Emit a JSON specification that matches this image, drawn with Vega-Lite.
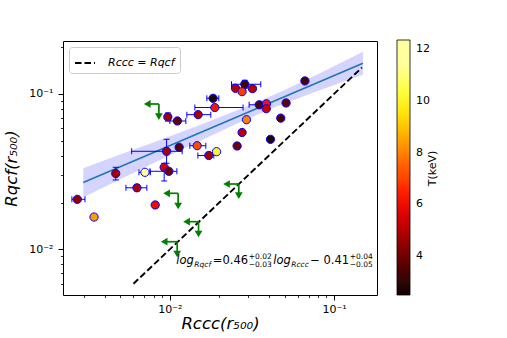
{
  "$schema": "https://vega.github.io/schema/vega-lite/v6.json",
  "width": 314,
  "height": 254,
  "autosize": "none",
  "padding": {"left": 63, "top": 41, "right": 130, "bottom": 43},
  "background": "white",
  "config": {
    "font": "DejaVu Sans",
    "view": {"stroke": "black", "strokeWidth": 1},
    "axis": {"grid": false, "domain": false, "tickColor": "black", "labelColor": "black", "titleColor": "black", "labelFont": "DejaVu Sans", "titleFont": "DejaVu Sans"}
  },
  "datasets": {
    "pts": [
      {"x": 0.01834, "y": 0.0938, "T": 2.7, "xlo": 0.0168, "xhi": 0.01987, "ylo": null, "yhi": null},
      {"x": 0.01879, "y": 0.0818, "T": 6.2, "xlo": 0.0142, "xhi": 0.02793, "ylo": null, "yhi": null},
      {"x": 0.00972, "y": 0.0711, "T": 4.7, "xlo": null, "xhi": null, "ylo": 0.067, "yhi": 0.0755},
      {"x": 0.01111, "y": 0.067, "T": 3.8, "xlo": 0.01, "xhi": 0.01251, "ylo": null, "yhi": null},
      {"x": 0.01487, "y": 0.0736, "T": 4.8, "xlo": 0.01269, "xhi": 0.01776, "ylo": null, "yhi": null},
      {"x": 0.00955, "y": 0.04276, "T": 4.8, "xlo": 0.00585, "xhi": 0.01188, "ylo": 0.0358, "yhi": 0.0511},
      {"x": 0.01139, "y": 0.04538, "T": 3.6, "xlo": null, "xhi": null, "ylo": null, "yhi": null},
      {"x": 0.01466, "y": 0.04645, "T": 7.1, "xlo": 0.01323, "xhi": 0.01656, "ylo": null, "yhi": null},
      {"x": 0.01727, "y": 0.04018, "T": 4.8, "xlo": 0.01481, "xhi": 0.01853, "ylo": null, "yhi": null},
      {"x": 0.01924, "y": 0.04251, "T": 10.0, "xlo": null, "xhi": null, "ylo": null, "yhi": null},
      {"x": 0.00923, "y": 0.03373, "T": 5.6, "xlo": null, "xhi": null, "ylo": 0.02753, "yhi": 0.0358},
      {"x": 0.00986, "y": 0.03179, "T": 4.0, "xlo": 0.00756, "xhi": 0.01103, "ylo": null, "yhi": null},
      {"x": 0.00705, "y": 0.03131, "T": 12.36, "xlo": 0.00648, "xhi": 0.0076, "ylo": null, "yhi": null},
      {"x": 0.00468, "y": 0.03076, "T": 4.8, "xlo": null, "xhi": null, "ylo": 0.02794, "yhi": 0.03373},
      {"x": 0.0063, "y": 0.02489, "T": 4.9, "xlo": 0.0054, "xhi": 0.00724, "ylo": 0.0238, "yhi": 0.02602},
      {"x": 0.00814, "y": 0.01929, "T": 5.9, "xlo": null, "xhi": null, "ylo": null, "yhi": null},
      {"x": 0.00273, "y": 0.02099, "T": 4.5, "xlo": 0.00253, "xhi": 0.00304, "ylo": null, "yhi": null},
      {"x": 0.00345, "y": 0.01614, "T": 8.4, "xlo": null, "xhi": null, "ylo": null, "yhi": null},
      {"x": 0.02511, "y": 0.1088, "T": 5.0, "xlo": null, "xhi": null, "ylo": null, "yhi": null},
      {"x": 0.02861, "y": 0.1155, "T": 3.3, "xlo": 0.02374, "xhi": 0.0358, "ylo": 0.1088, "yhi": 0.1225},
      {"x": 0.02754, "y": 0.1035, "T": 6.8, "xlo": null, "xhi": null, "ylo": null, "yhi": null},
      {"x": 0.03187, "y": 0.1082, "T": 5.0, "xlo": null, "xhi": null, "ylo": null, "yhi": null},
      {"x": 0.03505, "y": 0.0852, "T": 3.5, "xlo": 0.0304, "xhi": 0.0363, "ylo": null, "yhi": null},
      {"x": 0.03878, "y": 0.0865, "T": 6.2, "xlo": null, "xhi": null, "ylo": null, "yhi": null},
      {"x": 0.03866, "y": 0.0804, "T": 5.3, "xlo": null, "xhi": null, "ylo": null, "yhi": null},
      {"x": 0.05104, "y": 0.0875, "T": 3.8, "xlo": null, "xhi": null, "ylo": null, "yhi": null},
      {"x": 0.06651, "y": 0.1213, "T": 3.5, "xlo": null, "xhi": null, "ylo": null, "yhi": null},
      {"x": 0.0293, "y": 0.0683, "T": 7.9, "xlo": null, "xhi": null, "ylo": null, "yhi": null},
      {"x": 0.04739, "y": 0.0699, "T": 3.5, "xlo": null, "xhi": null, "ylo": null, "yhi": null},
      {"x": 0.02754, "y": 0.05651, "T": 5.0, "xlo": null, "xhi": null, "ylo": null, "yhi": null},
      {"x": 0.02568, "y": 0.04625, "T": 4.0, "xlo": null, "xhi": null, "ylo": null, "yhi": null},
      {"x": 0.04101, "y": 0.05107, "T": 2.7, "xlo": null, "xhi": null, "ylo": null, "yhi": null}
    ],
    "band": [
      {"x": 0.002967, "lo": 0.02165, "hi": 0.03328},
      {"x": 0.004961, "lo": 0.02812, "hi": 0.04074},
      {"x": 0.008692, "lo": 0.03758, "hi": 0.05055},
      {"x": 0.01523, "lo": 0.04985, "hi": 0.06321},
      {"x": 0.02667, "lo": 0.06566, "hi": 0.07962},
      {"x": 0.04672, "lo": 0.08452, "hi": 0.1025},
      {"x": 0.08185, "lo": 0.1057, "hi": 0.136},
      {"x": 0.1501, "lo": 0.1329, "hi": 0.1869}
    ],
    "fit": [
      {"x": 0.002967, "y": 0.0269},
      {"x": 0.1501, "y": 0.1576}
    ],
    "ref": [
      {"x": 0.006, "y": 0.006, "k": "Rccc = Rqcf"},
      {"x": 0.148, "y": 0.148, "k": "Rccc = Rqcf"}
    ],
    "ul": [
      {"x": 0.00857, "y": 0.0862, "xt": 0.00728, "yt": 0.0714},
      {"x": 0.01123, "y": 0.02294, "xt": 0.00955, "yt": 0.019},
      {"x": 0.01495, "y": 0.01506, "xt": 0.01264, "yt": 0.01255},
      {"x": 0.01108, "y": 0.01119, "xt": 0.00923, "yt": 0.00933},
      {"x": 0.0263, "y": 0.02633, "xt": 0.02214, "yt": 0.02214}
    ],
    "txt": [
      {"x": 0.010954, "y": 0.0080418, "s": "log", "k": "mi"},
      {"x": 0.014093, "y": 0.0076918, "s": "Rqcf", "k": "si"},
      {"x": 0.01827, "y": 0.0080418, "s": "=0.46", "k": "m"},
      {"x": 0.030264, "y": 0.0087262, "s": "+0.02", "k": "s"},
      {"x": 0.030264, "y": 0.0076918, "s": "−0.03", "k": "s"},
      {"x": 0.042653, "y": 0.0080418, "s": "log", "k": "mi"},
      {"x": 0.054881, "y": 0.0076918, "s": "Rccc", "k": "si"},
      {"x": 0.071634, "y": 0.0080418, "s": "− 0.41", "k": "m"},
      {"x": 0.124626, "y": 0.0087262, "s": "+0.04", "k": "s"},
      {"x": 0.124626, "y": 0.0076918, "s": "−0.05", "k": "s"}
    ]
  },
  "layer": [
    {
      "data": {"name": "band"},
      "mark": {"type": "area", "orient": "vertical", "color": "#0000ff", "opacity": 0.17},
      "encoding": {
        "x": {"field": "x", "type": "quantitative", "scale": {"type": "log", "domain": [0.002233, 0.1828], "nice": false},
          "axis": {"orient": "bottom", "values": [0.01, 0.1], "labelExpr": "datum.value < 0.05 ? '10⁻²' : '10⁻¹'", "tickSize": 5, "tickWidth": 1, "labelFontSize": 11, "labelPadding": 3, "labelFlush": false, "title": "Rccc(r₅₀₀)", "titleFontSize": 16.5, "titleFontStyle": "italic", "titleFontWeight": "normal", "titlePadding": 1}},
        "y": {"field": "lo", "type": "quantitative", "scale": {"type": "log", "domain": [0.00508, 0.2193], "nice": false},
          "axis": {"orient": "left", "values": [0.01, 0.1], "labelExpr": "datum.value < 0.05 ? '10⁻²' : '10⁻¹'", "tickSize": 5, "tickWidth": 1, "labelFontSize": 11, "labelPadding": 5, "labelFlush": false, "title": "Rqcf(r₅₀₀)", "titleFontSize": 16.5, "titleFontStyle": "italic", "titleFontWeight": "normal", "titlePadding": 9}},
        "y2": {"field": "hi"}
      }
    },
    {
      "data": {"name": "pts"},
      "mark": {"type": "point", "opacity": 0},
      "encoding": {
        "x": {"field": "x", "type": "quantitative", "scale": {"type": "log"},
          "axis": {"orient": "bottom", "values": [0.003, 0.004, 0.005, 0.006, 0.007, 0.008, 0.009, 0.02, 0.03, 0.04, 0.05, 0.06, 0.07, 0.08, 0.09], "labels": false, "tickSize": 2.5, "tickWidth": 0.8, "title": null}},
        "y": {"field": "y", "type": "quantitative", "scale": {"type": "log"},
          "axis": {"orient": "left", "values": [0.006, 0.007, 0.008, 0.009, 0.02, 0.03, 0.04, 0.05, 0.06, 0.07, 0.08, 0.09, 0.2], "labels": false, "tickSize": 2.5, "tickWidth": 0.8, "title": null}}
      }
    },
    {
      "data": {"name": "pts"},
      "mark": {"type": "point", "opacity": 0},
      "encoding": {
        "x": {"field": "x", "type": "quantitative", "scale": {"type": "log"}, "axis": null},
        "y": {"field": "y", "type": "quantitative", "scale": {"type": "log"},
          "axis": {"orient": "right", "offset": 45, "labels": false, "ticks": false, "domain": false, "title": "T(keV)", "titleAngle": 270, "titleBaseline": "top", "titleFontSize": 11, "titleFontWeight": "normal", "titleFontStyle": "normal", "titlePadding": 4, "titleAnchor": "middle"}}
      }
    },
    {
      "data": {"name": "fit"},
      "mark": {"type": "line", "color": "#1f77b4", "strokeWidth": 1.6},
      "encoding": {
        "x": {"field": "x", "type": "quantitative", "scale": {"type": "log"}, "axis": null},
        "y": {"field": "y", "type": "quantitative", "scale": {"type": "log"}, "axis": null}
      }
    },
    {
      "data": {"name": "ref"},
      "mark": {"type": "line", "color": "black", "strokeWidth": 1.9},
      "encoding": {
        "x": {"field": "x", "type": "quantitative", "scale": {"type": "log"}, "axis": null},
        "y": {"field": "y", "type": "quantitative", "scale": {"type": "log"}, "axis": null},
        "strokeDash": {"field": "k", "type": "nominal", "scale": {"range": [[6.5, 3]]},
          "legend": {"orient": "top-left", "offset": 6, "title": null, "fillColor": "white", "strokeColor": "#cccccc", "padding": 5, "cornerRadius": 3, "symbolType": "stroke", "symbolStrokeWidth": 2, "symbolSize": 400, "symbolStrokeColor": "black", "labelFontSize": 11, "labelFontStyle": "italic", "labelFont": "DejaVu Sans", "labelOffset": 12, "labelColor": "black"}}
      }
    },
    {
      "data": {"name": "pts"},
      "transform": [{"filter": "datum.xlo != null"}],
      "mark": {"type": "rule", "color": "blue", "strokeWidth": 1},
      "encoding": {
        "x": {"field": "xlo", "type": "quantitative", "scale": {"type": "log"}, "axis": null},
        "x2": {"field": "xhi"},
        "y": {"field": "y", "type": "quantitative", "scale": {"type": "log"}, "axis": null}
      }
    },
    {
      "data": {"name": "pts"},
      "transform": [{"filter": "datum.xlo != null"}],
      "mark": {"type": "tick", "orient": "vertical", "color": "blue", "size": 6, "thickness": 1, "opacity": 1},
      "encoding": {
        "x": {"field": "xlo", "type": "quantitative", "scale": {"type": "log"}, "axis": null},
        "y": {"field": "y", "type": "quantitative", "scale": {"type": "log"}, "axis": null}
      }
    },
    {
      "data": {"name": "pts"},
      "transform": [{"filter": "datum.xhi != null"}],
      "mark": {"type": "tick", "orient": "vertical", "color": "blue", "size": 6, "thickness": 1, "opacity": 1},
      "encoding": {
        "x": {"field": "xhi", "type": "quantitative", "scale": {"type": "log"}, "axis": null},
        "y": {"field": "y", "type": "quantitative", "scale": {"type": "log"}, "axis": null}
      }
    },
    {
      "data": {"name": "pts"},
      "transform": [{"filter": "datum.ylo != null"}],
      "mark": {"type": "rule", "color": "blue", "strokeWidth": 1},
      "encoding": {
        "x": {"field": "x", "type": "quantitative", "scale": {"type": "log"}, "axis": null},
        "y": {"field": "ylo", "type": "quantitative", "scale": {"type": "log"}, "axis": null},
        "y2": {"field": "yhi"}
      }
    },
    {
      "data": {"name": "pts"},
      "transform": [{"filter": "datum.ylo != null"}],
      "mark": {"type": "tick", "orient": "horizontal", "color": "blue", "size": 6, "thickness": 1, "opacity": 1},
      "encoding": {
        "x": {"field": "x", "type": "quantitative", "scale": {"type": "log"}, "axis": null},
        "y": {"field": "ylo", "type": "quantitative", "scale": {"type": "log"}, "axis": null}
      }
    },
    {
      "data": {"name": "pts"},
      "transform": [{"filter": "datum.yhi != null"}],
      "mark": {"type": "tick", "orient": "horizontal", "color": "blue", "size": 6, "thickness": 1, "opacity": 1},
      "encoding": {
        "x": {"field": "x", "type": "quantitative", "scale": {"type": "log"}, "axis": null},
        "y": {"field": "yhi", "type": "quantitative", "scale": {"type": "log"}, "axis": null}
      }
    },
    {
      "data": {"name": "pts"},
      "mark": {"type": "circle", "size": 68, "stroke": "blue", "strokeWidth": 1, "opacity": 1},
      "encoding": {
        "x": {"field": "x", "type": "quantitative", "scale": {"type": "log"}, "axis": null},
        "y": {"field": "y", "type": "quantitative", "scale": {"type": "log"}, "axis": null},
        "fill": {"field": "T", "type": "quantitative",
          "scale": {"type": "linear", "domain": [2.48, 3.468, 4.456, 5.444, 6.432, 7.42, 8.408, 9.396, 10.384, 11.372, 12.36],
            "range": ["#0b0000", "#4d0000", "#910000", "#d40000", "#ff1700", "#ff5a00", "#ff9d00", "#ffe000", "#ffff36", "#ffff9b", "#ffffff"]},
          "legend": {"orient": "none", "legendX": 334, "legendY": -1, "direction": "vertical", "gradientLength": 255, "gradientThickness": 13, "gradientStrokeColor": "black", "gradientStrokeWidth": 0.8, "values": [4, 6, 8, 10, 12], "labelFontSize": 11, "labelOffset": 6, "labelOverlap": false, "labelColor": "black", "title": null, "padding": 0}}
      }
    },
    {
      "data": {"name": "ul"},
      "mark": {"type": "rule", "color": "green", "strokeWidth": 1.7},
      "encoding": {
        "x": {"field": "x", "type": "quantitative", "scale": {"type": "log"}, "axis": null},
        "x2": {"field": "xt"},
        "y": {"field": "y", "type": "quantitative", "scale": {"type": "log"}, "axis": null}
      }
    },
    {
      "data": {"name": "ul"},
      "mark": {"type": "rule", "color": "green", "strokeWidth": 1.7},
      "encoding": {
        "x": {"field": "x", "type": "quantitative", "scale": {"type": "log"}, "axis": null},
        "y": {"field": "y", "type": "quantitative", "scale": {"type": "log"}, "axis": null},
        "y2": {"field": "yt"}
      }
    },
    {
      "data": {"name": "ul"},
      "mark": {"type": "point", "shape": "triangle-left", "filled": true, "color": "green", "size": 60, "opacity": 1},
      "encoding": {
        "x": {"field": "xt", "type": "quantitative", "scale": {"type": "log"}, "axis": null},
        "y": {"field": "y", "type": "quantitative", "scale": {"type": "log"}, "axis": null}
      }
    },
    {
      "data": {"name": "ul"},
      "mark": {"type": "point", "shape": "triangle-down", "filled": true, "color": "green", "size": 60, "opacity": 1},
      "encoding": {
        "x": {"field": "x", "type": "quantitative", "scale": {"type": "log"}, "axis": null},
        "y": {"field": "yt", "type": "quantitative", "scale": {"type": "log"}, "axis": null}
      }
    },
    {
      "data": {"name": "txt"},
      "transform": [{"filter": "datum.k == 'mi'"}],
      "mark": {"type": "text", "align": "left", "baseline": "alphabetic", "fontSize": 11.5, "fontStyle": "italic", "font": "DejaVu Sans", "color": "black"},
      "encoding": {
        "x": {"field": "x", "type": "quantitative", "scale": {"type": "log"}, "axis": null},
        "y": {"field": "y", "type": "quantitative", "scale": {"type": "log"}, "axis": null},
        "text": {"field": "s"}
      }
    },
    {
      "data": {"name": "txt"},
      "transform": [{"filter": "datum.k == 'm'"}],
      "mark": {"type": "text", "align": "left", "baseline": "alphabetic", "fontSize": 11.5, "font": "DejaVu Sans", "color": "black"},
      "encoding": {
        "x": {"field": "x", "type": "quantitative", "scale": {"type": "log"}, "axis": null},
        "y": {"field": "y", "type": "quantitative", "scale": {"type": "log"}, "axis": null},
        "text": {"field": "s"}
      }
    },
    {
      "data": {"name": "txt"},
      "transform": [{"filter": "datum.k == 'si'"}],
      "mark": {"type": "text", "align": "left", "baseline": "alphabetic", "fontSize": 7.5, "fontStyle": "italic", "font": "DejaVu Sans", "color": "black"},
      "encoding": {
        "x": {"field": "x", "type": "quantitative", "scale": {"type": "log"}, "axis": null},
        "y": {"field": "y", "type": "quantitative", "scale": {"type": "log"}, "axis": null},
        "text": {"field": "s"}
      }
    },
    {
      "data": {"name": "txt"},
      "transform": [{"filter": "datum.k == 's'"}],
      "mark": {"type": "text", "align": "left", "baseline": "alphabetic", "fontSize": 7.5, "font": "DejaVu Sans", "color": "black"},
      "encoding": {
        "x": {"field": "x", "type": "quantitative", "scale": {"type": "log"}, "axis": null},
        "y": {"field": "y", "type": "quantitative", "scale": {"type": "log"}, "axis": null},
        "text": {"field": "s"}
      }
    }
  ],
  "resolve": {"axis": {"x": "independent", "y": "independent"}}
}
